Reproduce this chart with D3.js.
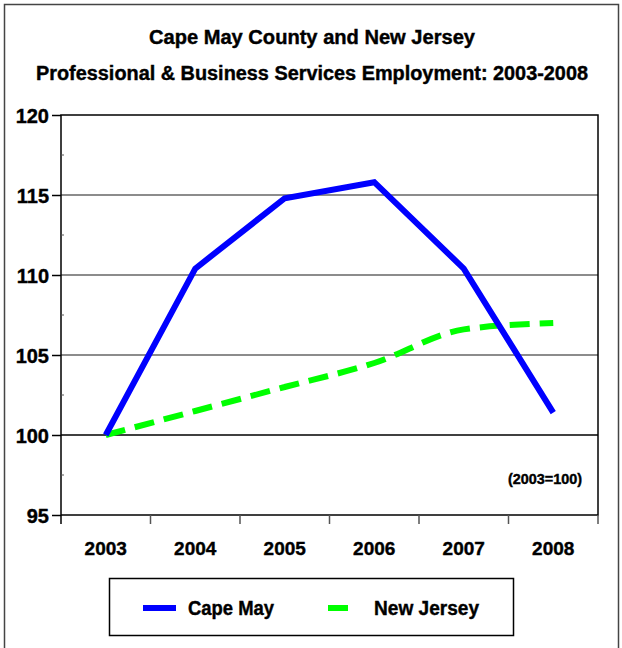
<!DOCTYPE html>
<html lang="en">
<head>
<meta charset="utf-8">
<script src="https://d3js.org/d3.v7.min.js"></script>
<style>
  body { margin: 0; background: #fff; }
  text { font-family: "Liberation Sans", "DejaVu Sans", sans-serif; font-weight: bold; fill: #000; stroke: #000; stroke-width: 0.4px; }
</style>
</head>
<body>
<script>
// data (index, 2003 = 100)
var years = ["2003", "2004", "2005", "2006", "2007", "2008"];
var capeMay = [100, 110.4, 114.8, 115.8, 110.4, 101.4];
var newJersey = [100, 101.5, 103.0, 104.5, 106.6, 107.0];
var yTicks = [95, 100, 105, 110, 115, 120];

var width = 622, height = 648;
var margin = {left: 61, right: 24, top: 115, bottom: 133};

var svg = d3.select("body").append("svg")
  .attr("width", width)
  .attr("height", height);

// outer frame
svg.append("rect")
  .attr("x", 4.5).attr("y", 4.5)
  .attr("width", 614).attr("height", 660)
  .attr("fill", "none").attr("stroke", "#444").attr("stroke-width", 1.5);

// titles
svg.append("text").attr("x", 312).attr("y", 44)
  .attr("text-anchor", "middle").style("font-size", "20px")
  .attr("textLength", 326).attr("lengthAdjust", "spacingAndGlyphs")
  .text("Cape May County and New Jersey");
svg.append("text").attr("x", 312).attr("y", 80)
  .attr("text-anchor", "middle").style("font-size", "20px")
  .attr("textLength", 552).attr("lengthAdjust", "spacingAndGlyphs")
  .text("Professional & Business Services Employment: 2003-2008");

var x = d3.scaleBand()
  .domain(years)
  .range([margin.left, width - margin.right]);

var y = d3.scaleLinear()
  .domain([95, 120])
  .range([height - margin.bottom, margin.top]);

// gridlines
svg.append("g")
  .selectAll("line")
  .data(yTicks.filter(function(d) { return d > 95 && d < 120; }))
  .enter().append("line")
  .attr("x1", margin.left).attr("x2", width - margin.right)
  .attr("y1", function(d) { return y(d); })
  .attr("y2", function(d) { return y(d); })
  .attr("stroke", function(d) { return d == 100 ? "#000" : "#666"; })
  .attr("stroke-width", 1.5);

// plot frame
svg.append("rect")
  .attr("x", margin.left).attr("y", margin.top)
  .attr("width", width - margin.right - margin.left)
  .attr("height", height - margin.bottom - margin.top)
  .attr("fill", "none").attr("stroke", "#000").attr("stroke-width", 1.5);

// y axis
var yAxis = svg.append("g")
  .attr("transform", "translate(" + margin.left + ",0)")
  .call(d3.axisLeft(y).tickValues(yTicks).tickSize(9).tickPadding(3));
yAxis.select(".domain").remove();
yAxis.selectAll("text").style("font-size", "20px").attr("dy", "0.36em");
yAxis.selectAll("line").attr("stroke-width", 1.5);

// minor y ticks
svg.append("g")
  .selectAll("line")
  .data([97.5, 102.5, 107.5, 112.5, 117.5])
  .enter().append("line")
  .attr("x1", margin.left).attr("x2", margin.left + 3)
  .attr("y1", function(d) { return y(d); })
  .attr("y2", function(d) { return y(d); })
  .attr("stroke", "#555");

// x axis: tick marks at band edges
var xAxis = svg.append("g")
  .attr("transform", "translate(0," + y(95) + ")");
xAxis.selectAll("line")
  .data(years.slice(1).concat(["end"]))
  .enter().append("line")
  .attr("x1", function(d, i) { return x(years[0]) + x.step() * (i + 1); })
  .attr("x2", function(d, i) { return x(years[0]) + x.step() * (i + 1); })
  .attr("y1", 0).attr("y2", 9)
  .attr("stroke", "#555").attr("stroke-width", 1.5);
xAxis.append("line")
  .attr("x1", margin.left).attr("x2", margin.left)
  .attr("y1", 0).attr("y2", 9)
  .attr("stroke", "#000").attr("stroke-width", 1.5);
xAxis.selectAll("text")
  .data(years)
  .enter().append("text")
  .attr("x", function(d) { return x(d) + x.bandwidth() / 2; })
  .attr("y", 40)
  .attr("text-anchor", "middle")
  .style("font-size", "19px")
  .text(function(d) { return d; });

var cx = function(d, i) { return x(years[i]) + x.bandwidth() / 2; };

var lineStraight = d3.line()
  .x(cx)
  .y(function(d) { return y(d); });

var lineSmooth = d3.line()
  .x(cx)
  .y(function(d) { return y(d); })
  .curve(d3.curveMonotoneX);

svg.append("path")
  .datum(newJersey)
  .attr("d", lineSmooth)
  .attr("fill", "none")
  .attr("stroke", "#00ff00")
  .attr("stroke-width", 6)
  .attr("stroke-dasharray", "20,10");

svg.append("path")
  .datum(capeMay)
  .attr("d", lineStraight)
  .attr("fill", "none")
  .attr("stroke", "#0000ff")
  .attr("stroke-width", 6)
  .attr("stroke-linejoin", "miter");

// annotation
svg.append("text")
  .attr("x", 582).attr("y", 484)
  .attr("text-anchor", "end")
  .style("font-size", "14px")
  .attr("textLength", 74).attr("lengthAdjust", "spacingAndGlyphs")
  .text("(2003=100)");

// legend
var legend = svg.append("g");
legend.append("rect")
  .attr("x", 109.5).attr("y", 578.5)
  .attr("width", 404).attr("height", 57)
  .attr("fill", "#fff").attr("stroke", "#000").attr("stroke-width", 1.5);
legend.append("line")
  .attr("x1", 143).attr("x2", 176).attr("y1", 608).attr("y2", 608)
  .attr("stroke", "#0000ff").attr("stroke-width", 6);
legend.append("text")
  .attr("x", 188).attr("y", 615)
  .style("font-size", "20px")
  .attr("textLength", 86).attr("lengthAdjust", "spacingAndGlyphs")
  .text("Cape May");
legend.append("line")
  .attr("x1", 328).attr("x2", 348).attr("y1", 608).attr("y2", 608)
  .attr("stroke", "#00ff00").attr("stroke-width", 6);
legend.append("text")
  .attr("x", 374).attr("y", 615)
  .style("font-size", "20px")
  .attr("textLength", 105).attr("lengthAdjust", "spacingAndGlyphs")
  .text("New Jersey");
</script>
</body>
</html>
